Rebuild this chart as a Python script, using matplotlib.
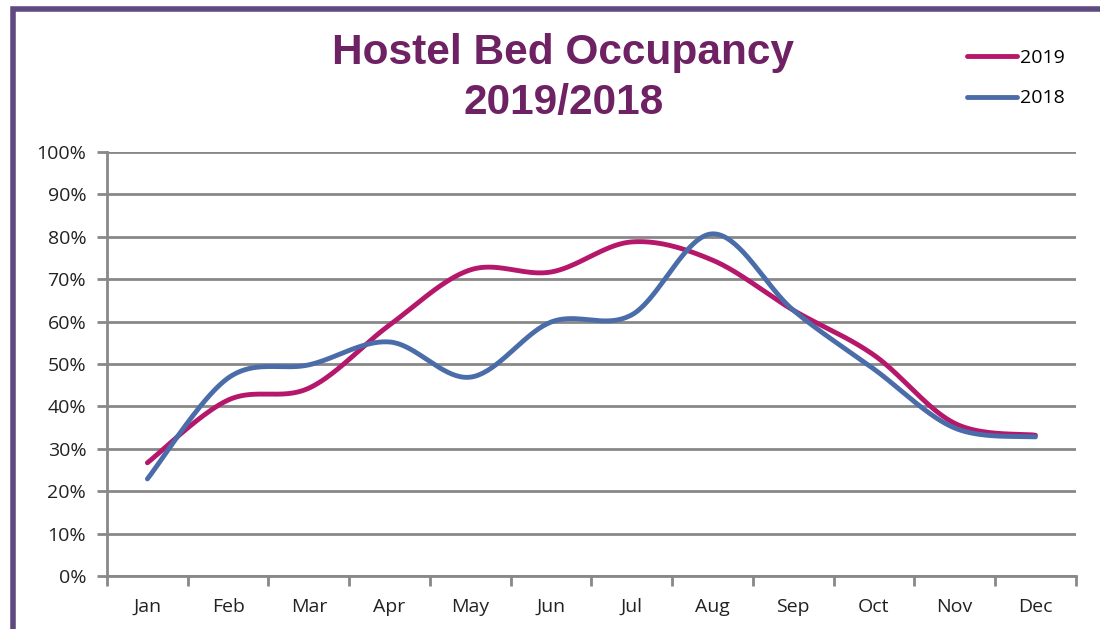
import numpy as np
import matplotlib.pyplot as plt
from matplotlib.patches import Rectangle

months = ['Jan', 'Feb', 'Mar', 'Apr', 'May', 'Jun', 'Jul', 'Aug', 'Sep', 'Oct', 'Nov', 'Dec']
occ_2019 = [26.7, 41.5, 44.3, 59.2, 72.2, 71.7, 78.8, 74.5, 62.7, 52.1, 36.0, 33.2]
occ_2018 = [22.9, 46.7, 49.8, 55.2, 46.9, 59.9, 61.6, 80.7, 62.7, 48.8, 34.9, 32.8]


def smooth(xs, ys, n=40):
    # bezier smoothing similar to spreadsheet "smoothed line"
    xs = np.asarray(xs, float)
    ys = np.asarray(ys, float)
    px = np.concatenate([[xs[0]], xs, [xs[-1]]])
    py = np.concatenate([[ys[0]], ys, [ys[-1]]])
    outx, outy = [], []
    t = np.linspace(0, 1, n)
    for i in range(1, len(px) - 2):
        p0 = np.array([px[i], py[i]])
        p3 = np.array([px[i + 1], py[i + 1]])
        c1 = p0 + (p3 - np.array([px[i - 1], py[i - 1]])) / 6
        c2 = p3 - (np.array([px[i + 2], py[i + 2]]) - p0) / 6
        b = ((1 - t) ** 3)[:, None] * p0 + (3 * (1 - t) ** 2 * t)[:, None] * c1 \
            + (3 * (1 - t) * t ** 2)[:, None] * c2 + (t ** 3)[:, None] * p3
        outx.extend(b[:, 0])
        outy.extend(b[:, 1])
    return outx, outy


plt.rcParams['font.family'] = ['Open Sans', 'DejaVu Sans']

fig = plt.figure(figsize=(11, 6.29), dpi=100)
ax = fig.add_axes([0.0973, 0.0843, 0.8807, 0.674])

x = np.arange(len(months))
sx, sy = smooth(x, occ_2019)
ax.plot(sx, sy, color='#B5176B', lw=3.5, solid_capstyle='round', label='2019', zorder=3)
sx, sy = smooth(x, occ_2018)
ax.plot(sx, sy, color='#4A6DAA', lw=3.5, solid_capstyle='round', label='2018', zorder=4)

ax.set_xlim(-0.5, 11.5)
ax.set_ylim(0, 100)
ax.set_yticks(np.arange(0, 101, 10))
ax.set_yticklabels([f'{v}%' for v in range(0, 101, 10)])
ax.set_xticks(x)
ax.set_xticklabels(months)
ax.set_xticks(np.arange(-0.5, 12, 1), minor=True)
ax.tick_params(axis='x', which='major', length=0, pad=16, labelsize=14, colors='#222222')
ax.tick_params(axis='x', which='minor', length=7, width=2, color='#888888')
ax.tick_params(axis='y', length=7, width=2, color='#888888', labelsize=14, colors='#222222', pad=8)
ax.grid(axis='y', color='#888888', lw=2)
ax.set_axisbelow(True)
for s in ['top', 'right']:
    ax.spines[s].set_visible(False)
for s in ['left', 'bottom']:
    ax.spines[s].set_color('#888888')
    ax.spines[s].set_linewidth(2)

fig.text(0.512, 0.915, 'Hostel Bed Occupancy', ha='center', va='center',
         fontsize=30.5, fontweight='bold', color='#6E2163', family='Liberation Sans')
fig.text(0.512, 0.836, '2019/2018', ha='center', va='center',
         fontsize=30.5, fontweight='bold', color='#6E2163', family='Liberation Sans')

leg = fig.legend(loc='upper left', bbox_to_anchor=(0.863, 0.95), frameon=False,
                 fontsize=14, handlelength=2.6, handletextpad=0.15, labelspacing=1.15)

# purple frame on left and top
fig.add_artist(Rectangle((0.0115, -0.05), 1.2, 1.035, transform=fig.transFigure,
                         fill=False, edgecolor='#5E4A80', lw=4))

fig.savefig('out.png', dpi=100)
